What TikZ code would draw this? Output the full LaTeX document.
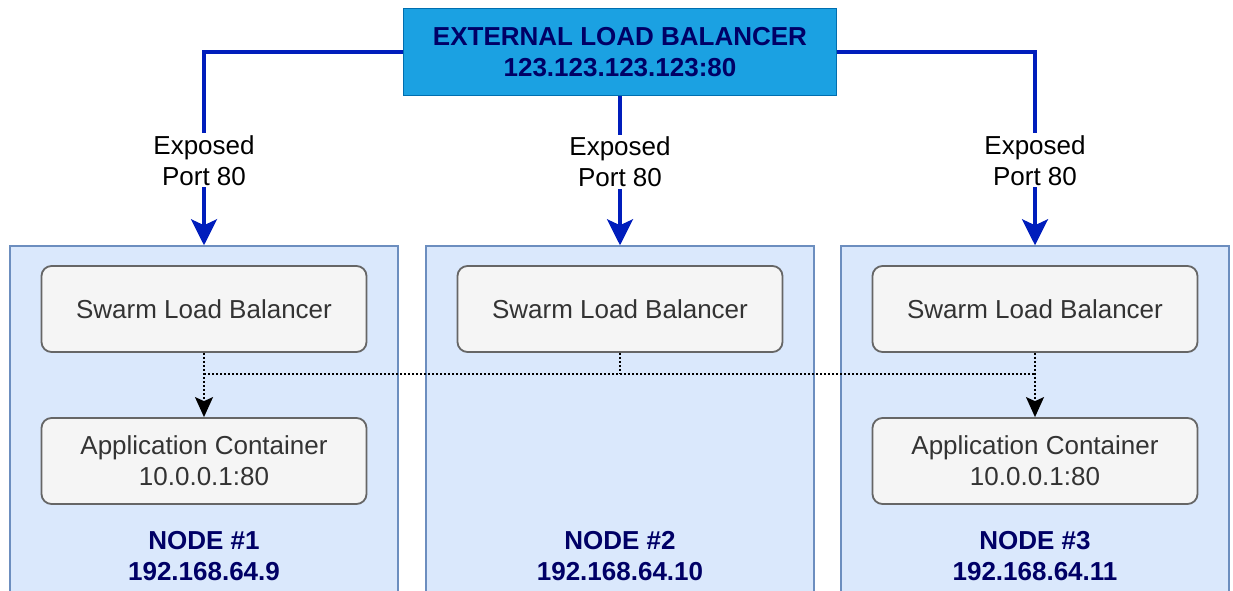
\documentclass[tikz,border=0pt]{standalone}
\usepackage{fontspec}
\setmainfont{Liberation Sans}
\definecolor{mExtFill}{HTML}{1BA1E2}
\definecolor{mExtDraw}{HTML}{006EAF}
\definecolor{mNavy}{HTML}{000066}
\definecolor{mLink}{HTML}{001DBC}
\definecolor{mHostFill}{HTML}{DAE8FC}
\definecolor{mHostDraw}{HTML}{6C8EBF}
\definecolor{mBoxFill}{HTML}{F5F5F5}
\definecolor{mBoxDraw}{HTML}{666666}
\definecolor{mBoxText}{HTML}{333333}
\usepackage{tikz}
\usetikzlibrary{arrows.meta}
\newcommand{\dfont}{\fontsize{13}{15.5}\selectfont}

\tikzset{
  hostbox/.style={draw=mHostDraw, fill=mHostFill, line width=0.75pt, minimum width=194pt, minimum height=177pt},
  svcbox/.style={draw=mBoxDraw, fill=mBoxFill, text=mBoxText, rounded corners=5pt, line width=0.9pt, minimum width=162.5pt, minimum height=43pt, align=center},
  hostlabel/.style={text=mNavy, font=\dfont\bfseries, align=center},
  exposed/.style={fill=white, text=black, align=center, inner sep=1pt},
  link/.style={mLink, line width=1.6pt, -{Stealth[length=13pt,width=13pt,inset=3pt]}},
  mesh/.style={black, line width=0.8pt, dash pattern=on 1pt off 1pt},
}

\begin{document}
\begin{tikzpicture}[x=0.5pt, y=-0.5pt, font=\dfont]
\useasboundingbox (0,0) rectangle (1233,590);
% swarm nodes
\foreach \i/\x/\ip in {1/204/9, 2/620/10, 3/1035/11} {
  \node[hostbox] (host\i) at (\x,423) {};
  \node[svcbox] (slb\i) at (\x,309) {Swarm Load Balancer};
  \node[hostlabel] (hostname\i) at (\x,556) {NODE \#\i\\192.168.64.\ip};
}
\node[svcbox] (app1) at (204,461) {Application Container\\10.0.0.1:80};
\node[svcbox] (app3) at (1035,461) {Application Container\\10.0.0.1:80};
% external balancer
\node[draw=mExtDraw, fill=mExtFill, text=mNavy, font=\dfont\bfseries, align=center, line width=0.75pt,
  minimum width=216.5pt, minimum height=43.5pt] (extLB) at (620,52) {EXTERNAL LOAD BALANCER\\123.123.123.123:80};
\draw[link] (extLB.west) -| node[exposed, pos=0.78]{Exposed\\Port 80} (host1.north);
\draw[link] (extLB.south) -- node[exposed, pos=0.44]{Exposed\\Port 80} (host2.north);
\draw[link] (extLB.east) -| node[exposed, pos=0.78]{Exposed\\Port 80} (host3.north);
% routing mesh
\draw[mesh] (slb2.south) -- ++(0,21) coordinate (hub);
\draw[mesh] (slb1.south |- hub) -- (slb3.south |- hub);
\draw[mesh, -{Stealth[length=10pt,width=9pt,inset=2pt]}] (slb1.south) -- (app1.north);
\draw[mesh, -{Stealth[length=10pt,width=9pt,inset=2pt]}] (slb3.south) -- (app3.north);
\end{tikzpicture}
\end{document}
